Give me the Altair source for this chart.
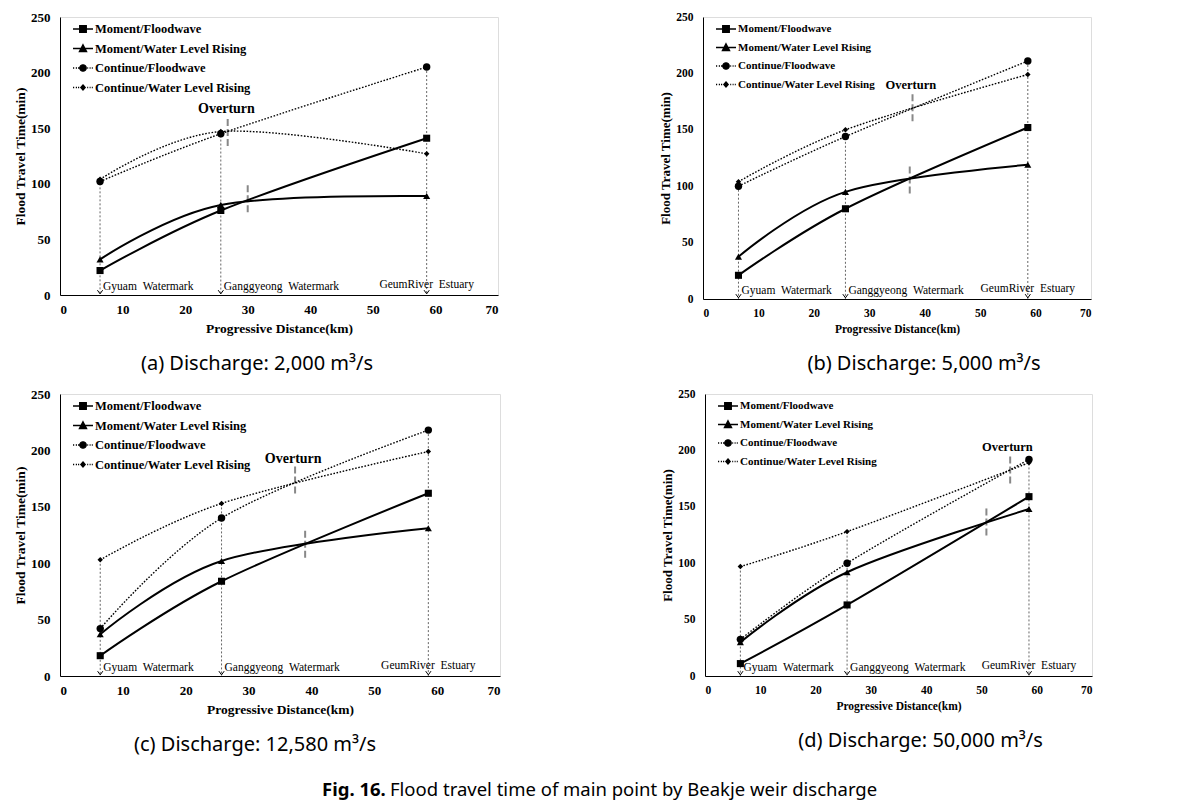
import altair as alt
import pandas as pd

SERIES = ["Moment/Floodwave", "Moment/Water Level Rising",
          "Continue/Floodwave", "Continue/Water Level Rising"]
STATIONS = ["Gyuam\u00a0\u00a0Watermark", "Ganggyeong\u00a0\u00a0Watermark", "GeumRiver\u00a0\u00a0Estuary"]
DIST = [6.4, 25.7, 58.6]

# (a) 2,000 m3/s
a_moment_flood = [22, 76, 141]
a_moment_rise = [32, 81, 89]
a_cont_flood = [102, 145, 205]
a_cont_rise = [104, 147, 127]
# (b) 5,000 m3/s
b_moment_flood = [21, 80, 152]
b_moment_rise = [37.5, 95, 119]
b_cont_flood = [100, 144, 211]
b_cont_rise = [104, 150, 199]
# (c) 12,580 m3/s
c_moment_flood = [18, 84, 162]
c_moment_rise = [37, 102, 131]
c_cont_flood = [42, 140, 218]
c_cont_rise = [103, 153, 199]
# (d) 50,000 m3/s
d_moment_flood = [11, 63, 159]
d_moment_rise = [30, 92, 148]
d_cont_flood = [32.5, 100, 192]
d_cont_rise = [97, 128, 189]

# "Overturn" annotations per panel (a, b, c, d)
over_text_x = [26.6, 37.5, 37.1, 54.7]
over_text_y = [167, 190, 192, 203]
over_up_x = [26.8, 37.8, 37.4, 55.2]
over_up_y1 = [134, 157.6, 161.7, 170.6]
over_up_y2 = [160, 183.6, 187, 195.7]
over_lo_x = [30, 37.3, 39, 50.9]
over_lo_y1 = [74.5, 93.6, 104.9, 124.6]
over_lo_y2 = [100, 120, 130.6, 150.5]

CAPTIONS = ["(a) Discharge: 2,000 m\u00b3/s", "(b) Discharge: 5,000 m\u00b3/s",
            "(c) Discharge: 12,580 m\u00b3/s", "(d) Discharge: 50,000 m\u00b3/s"]
FIG_LABEL = "Fig. 16."
FIG_CAPTION = "Flood travel time of main point by Beakje weir discharge"

SERIF = "Liberation Serif"
SANS = "Noto Sans"


def poly_circle(r, n=16):
    import math
    pts = [(r * math.cos(2 * math.pi * i / n), r * math.sin(2 * math.pi * i / n)) for i in range(n)]
    return "M" + "L".join(f"{x:.3f},{y:.3f}" for x, y in pts) + "Z"


def dotted_line():
    segs = []
    for s in [-1.0, -0.72, -0.5]:
        segs.append(f"M{s:.2f},0L{s + 0.12:.2f},0")
    for s in [0.42, 0.66, 0.88]:
        segs.append(f"M{s:.2f},0L{s + 0.1:.2f},0")
    return "".join(segs)


LEGEND_SHAPES = [
    "M-1,0L1,0M-0.33,-0.33L0.33,-0.33L0.33,0.33L-0.33,0.33Z",
    "M-1,0L1,0M0,-0.38L0.36,0.3L-0.36,0.3Z",
    dotted_line() + poly_circle(0.32),
    dotted_line() + "M0,-0.26L0.22,0L0,0.26L-0.22,0Z",
]


def make_panel(i, vals, width, height, fs_tick, fs_xtitle, fs_ytitle, fs_leg, fs_over):
    rows = []
    for s, v in zip(SERIES, vals):
        for d, st, y in zip(DIST, STATIONS, v):
            rows.append({"dist": d, "value": y, "series": s, "station": st})
    df = pd.DataFrame(rows)
    st_df = pd.DataFrame({"dist": DIST, "station": STATIONS})
    ov = pd.DataFrame({
        "tx": [over_text_x[i]], "ty": [over_text_y[i]],
        "ux": [over_up_x[i]], "uy1": [over_up_y1[i]], "uy2": [over_up_y2[i]],
        "lx": [over_lo_x[i]], "ly1": [over_lo_y1[i]], "ly2": [over_lo_y2[i]],
    })

    xaxis = alt.Axis(values=list(range(0, 71, 10)), title="Progressive Distance(km)",
                     labelFont=SERIF, labelFontWeight="bold", labelFontSize=fs_tick,
                     titleFont=SERIF, titleFontWeight="bold", titleFontSize=fs_xtitle,
                     labelPadding=8, titlePadding=5, ticks=False, grid=False,
                     domainColor="black", labelColor="black", titleColor="black")
    yaxis = alt.Axis(values=list(range(0, 251, 50)), title="Flood Travel Time(min)",
                     labelFont=SERIF, labelFontWeight="bold", labelFontSize=fs_tick,
                     titleFont=SERIF, titleFontWeight="bold", titleFontSize=fs_ytitle,
                     labelPadding=10, titlePadding=3, ticks=False, grid=False,
                     domainColor="black", labelColor="black", titleColor="black")
    xs = alt.Scale(domain=[0, 70], nice=False, zero=False)
    ys = alt.Scale(domain=[0, 250], nice=False)

    def X(f):
        return alt.X(f"{f}:Q", scale=xs, axis=xaxis)

    def Y(f):
        return alt.Y(f"{f}:Q", scale=ys, axis=yaxis)

    base = alt.Chart(df)

    drops = base.transform_aggregate(top="max(value)", groupby=["dist"]).mark_rule(
        color="#666666", strokeWidth=1, strokeDash=[2, 2]
    ).encode(x=X("dist"), y=Y("top"), y2=alt.datum(0))

    arrows = alt.Chart(st_df).mark_point(
        shape="M-1,-0.7L0,0.7L1,-0.7", size=28, filled=False, color="black",
        strokeWidth=1, yOffset=-3, opacity=1
    ).encode(x=X("dist"), y=alt.datum(0, scale=ys))

    up = alt.Chart(ov).mark_rule(color="#888888", strokeWidth=2, strokeDash=[7, 3]).encode(
        x=X("ux"), y=Y("uy1"), y2="uy2:Q")
    lo = alt.Chart(ov).mark_rule(color="#888888", strokeWidth=2, strokeDash=[7, 3]).encode(
        x=X("lx"), y=Y("ly1"), y2="ly2:Q")
    over_txt = alt.Chart(ov).mark_text(
        text="Overturn", font=SERIF, fontWeight="bold", fontSize=fs_over,
        color="black", baseline="middle", align="center"
    ).encode(x=X("tx"), y=Y("ty"))

    solid = base.transform_filter(
        alt.FieldOneOfPredicate(field="series", oneOf=SERIES[:2])
    ).mark_line(interpolate="cardinal", color="black", strokeWidth=2).encode(
        x=X("dist"), y=Y("value"), detail="series:N")
    dotted = base.transform_filter(
        alt.FieldOneOfPredicate(field="series", oneOf=SERIES[2:])
    ).mark_line(interpolate="cardinal", color="black", strokeWidth=1.4,
                strokeDash=[1.6, 1.6]).encode(
        x=X("dist"), y=Y("value"), detail="series:N")

    shapes = ["square", "triangle-up", "circle", "diamond"]
    sizes = [50, 50, 55, 30]
    pts = []
    for s, sh, sz in zip(SERIES, shapes, sizes):
        pts.append(base.transform_filter(alt.datum.series == s).mark_point(
            shape=sh, size=sz, filled=True, color="black", opacity=1
        ).encode(x=X("dist"), y=Y("value")))

    st_left = alt.Chart(st_df.iloc[:2]).mark_text(
        font=SERIF, fontSize=11.5, color="black", align="left", baseline="middle",
        dx=3, dy=-8
    ).encode(x=X("dist"), y=alt.datum(0, scale=ys), text="station:N")
    st_center = alt.Chart(st_df.iloc[2:]).mark_text(
        font=SERIF, fontSize=11.5, color="black", align="center", baseline="middle",
        dy=-10
    ).encode(x=X("dist"), y=alt.datum(0, scale=ys), text="station:N")

    legend_layer = base.transform_filter("false").mark_point(
        filled=False, color="black", fill="black", stroke="black", strokeWidth=1.3
    ).encode(
        x=X("dist"), y=Y("value"),
        shape=alt.Shape("series:N", scale=alt.Scale(domain=SERIES, range=LEGEND_SHAPES),
                        legend=alt.Legend(
                            orient="none", legendX=12, legendY=1, title=None,
                            symbolSize=400, labelFont=SERIF, labelFontWeight="bold",
                            labelFontSize=fs_leg, labelColor="black", rowPadding=1.5,
                            labelOffset=1, labelLimit=400, symbolStrokeWidth=1.3,
                            symbolOpacity=1, padding=0))
    )

    layers = [drops, up, lo, solid, dotted] + pts + [arrows, st_left, st_center, over_txt, legend_layer]
    return alt.layer(*layers).properties(width=width, height=height)


pa = make_panel(0, [a_moment_flood, a_moment_rise, a_cont_flood, a_cont_rise], 438, 278, 13, 13.5, 13.5, 12.5, 14)
pb = make_panel(1, [b_moment_flood, b_moment_rise, b_cont_flood, b_cont_rise], 388, 282, 11.5, 11.5, 13, 11, 12.5)
pc = make_panel(2, [c_moment_flood, c_moment_rise, c_cont_flood, c_cont_rise], 440, 282, 13, 13.5, 13.5, 12.5, 14)
pd_ = make_panel(3, [d_moment_flood, d_moment_rise, d_cont_flood, d_cont_rise], 387, 282, 11.5, 11.5, 13, 11, 12.5)

cap_dx = [-22, 27, -25, 22]
panels = []
for p, cap, dx in zip([pa, pb, pc, pd_], CAPTIONS, cap_dx):
    panels.append(p.properties(title=alt.Title(
        cap, orient="bottom", anchor="middle", frame="group", dx=dx, offset=19,
        font=SANS, fontSize=20, fontWeight="normal", color="black")))

row1 = alt.hconcat(panels[0], panels[1], spacing=160).resolve_scale(shape="independent").resolve_legend(shape="independent")
row2 = alt.hconcat(panels[2], panels[3], spacing=160).resolve_scale(shape="independent").resolve_legend(shape="independent")

inner = alt.vconcat(row1, row2, spacing=12).resolve_scale(
    shape="independent").resolve_legend(shape="independent").properties(
    title=alt.Title(FIG_CAPTION, orient="bottom", anchor="start", dx=377, offset=26,
                    font=SANS, fontSize=18.5, fontWeight="normal", color="black"),
)

chart = alt.vconcat(inner, spacing=0).resolve_scale(
    shape="independent").resolve_legend(shape="independent").properties(
    title=alt.Title(FIG_LABEL, orient="bottom", anchor="start", dx=309, offset=-19,
                    font=SANS, fontSize=18.5, fontWeight="bold", color="black"),
    padding={"left": 5, "top": 2, "right": 5, "bottom": 5},
).configure_view(stroke="black", strokeWidth=1.2).configure(background="white")

chart.save("out.html", embed_options={"renderer": "svg", "actions": False})
